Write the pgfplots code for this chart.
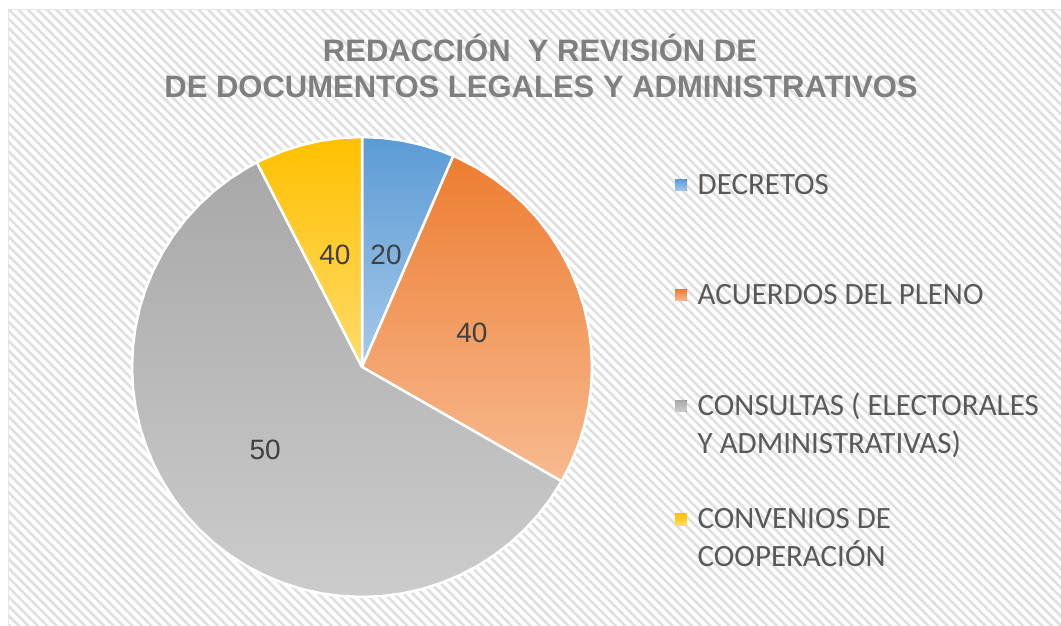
\documentclass[border=0pt]{standalone}
\usepackage{fontspec}
\setmainfont{Liberation Sans}
\newfontfamily\carlito{Carlito}
\usepackage{pgfplots}
\pgfplotsset{compat=1.18}
\usepgfplotslibrary{polar}
\usetikzlibrary{patterns.meta}

\definecolor{bluetop}{HTML}{5B9BD5}
\definecolor{bluebot}{HTML}{A6C9EA}
\definecolor{orgtop}{HTML}{ED7D31}
\definecolor{orgbot}{HTML}{F7BA90}
\definecolor{grytop}{HTML}{A8A8A8}
\definecolor{grybot}{HTML}{CCCCCC}
\definecolor{yeltop}{HTML}{FFC000}
\definecolor{yelbot}{HTML}{FFDB6A}
\definecolor{titlegray}{HTML}{7F7F7F}
\definecolor{labelgray}{HTML}{404040}
\definecolor{legendgray}{HTML}{595959}
\definecolor{stripe}{HTML}{DFDFDF}

\begin{document}
\begin{tikzpicture}
% background with diagonal hatching
\fill[white] (0,0) rectangle (1061bp,626bp);
\fill[pattern={Lines[angle=-45,distance=6.7bp,line width=2.6bp]}, pattern color=stripe]
  (8bp,0) rectangle (1061bp,616bp);
\draw[gray!20, line width=1bp] (8bp,0) -- (8bp,616bp) -- (1061bp,616bp);

% title
\node[font=\bfseries\fontsize{31bp}{36bp}\selectfont, text=titlegray, anchor=base]
  at (540bp,564bp) {REDACCIÓN\ \ Y REVISIÓN DE};
\node[font=\bfseries\fontsize{31bp}{36bp}\selectfont, text=titlegray, anchor=base]
  at (541bp,528bp) {DE DOCUMENTOS LEGALES Y ADMINISTRATIVOS};

\begin{polaraxis}[
  at={(362bp,259bp)}, anchor=center,
  width=460bp, height=460bp, scale only axis,
  hide axis, clip=false,
  ymin=0, ymax=100,
  legend image code/.code={\fill[#1, draw=none] (0bp,3.5bp) rectangle (11.5bp,15bp);},
  legend style={at={(1.1804,0.9304)}, anchor=north west, draw=none, fill=none,
    inner sep=0pt, row sep=0pt, column sep=11bp,
    cells={anchor=base west},
    nodes={inner sep=0pt, text=legendgray, font=\carlito\fontsize{31bp}{40bp}\selectfont}},
]
% slices: angle (deg, counter-clockwise from east), radius
% DECRETOS 6.5 %, ACUERDOS 26.8 %, CONSULTAS 59.1 %, CONVENIOS 7.6 %
\addplot[draw=white, line width=2.5bp, line join=round, top color=bluetop, bottom color=bluebot]
  coordinates {(0,0) (90,100) (85,100) (80,100) (75,100) (70,100) (66.6,100) (0,0)};
\addlegendentry{\rule{0pt}{25bp}DECRETOS}

\addplot[draw=white, line width=2.5bp, line join=round, top color=orgtop, bottom color=orgbot]
  coordinates {(0,0) (66.6,100) (65,100) (60,100) (55,100) (50,100) (45,100) (40,100)
    (35,100) (30,100) (25,100) (20,100) (15,100) (10,100) (5,100) (0,100) (-5,100)
    (-10,100) (-15,100) (-20,100) (-25,100) (-29.8,100) (0,0)};
\addlegendentry{\rule{0pt}{108.7bp}ACUERDOS DEL PLENO}

\addplot[draw=white, line width=2.5bp, line join=round, top color=grytop, bottom color=grybot]
  coordinates {(0,0) (330.2,100) (325,100) (320,100) (315,100) (310,100) (305,100)
    (300,100) (295,100) (290,100) (285,100) (280,100) (275,100) (270,100) (265,100)
    (260,100) (255,100) (250,100) (245,100) (240,100) (235,100) (230,100) (225,100)
    (220,100) (215,100) (210,100) (205,100) (200,100) (195,100) (190,100) (185,100)
    (180,100) (175,100) (170,100) (165,100) (160,100) (155,100) (150,100) (145,100)
    (140,100) (135,100) (130,100) (125,100) (120,100) (117.2,100) (0,0)};
\addlegendentry{\rule{0pt}{109.3bp}CONSULTAS ( ELECTORALES}
\addlegendimage{legend image code/.code={}}
\addlegendentry{\rule{0pt}{37bp}Y ADMINISTRATIVAS)}

\addplot[draw=white, line width=2.5bp, line join=round, top color=yeltop, bottom color=yelbot]
  coordinates {(0,0) (117.2,100) (115,100) (110,100) (105,100) (100,100) (95,100) (90,100) (0,0)};
\addlegendentry{\rule{0pt}{73.4bp}CONVENIOS DE}
\addlegendimage{legend image code/.code={}}
\addlegendentry{\rule{0pt}{36.5bp}COOPERACIÓN}

% data labels
\addplot[draw=none, forget plot, nodes near coords, point meta=explicit symbolic,
  every node near coord/.append style={font=\fontsize{28bp}{28bp}\selectfont,
    text=labelgray, anchor=center, inner sep=0pt}]
  coordinates {(77.9,49.8) [20] (17.2,50) [40] (220.6,55.5) [50] (103.6,50) [40]};
\end{polaraxis}

\pgfresetboundingbox
\useasboundingbox (0,0) rectangle (1061bp,626bp);
\end{tikzpicture}
\end{document}
